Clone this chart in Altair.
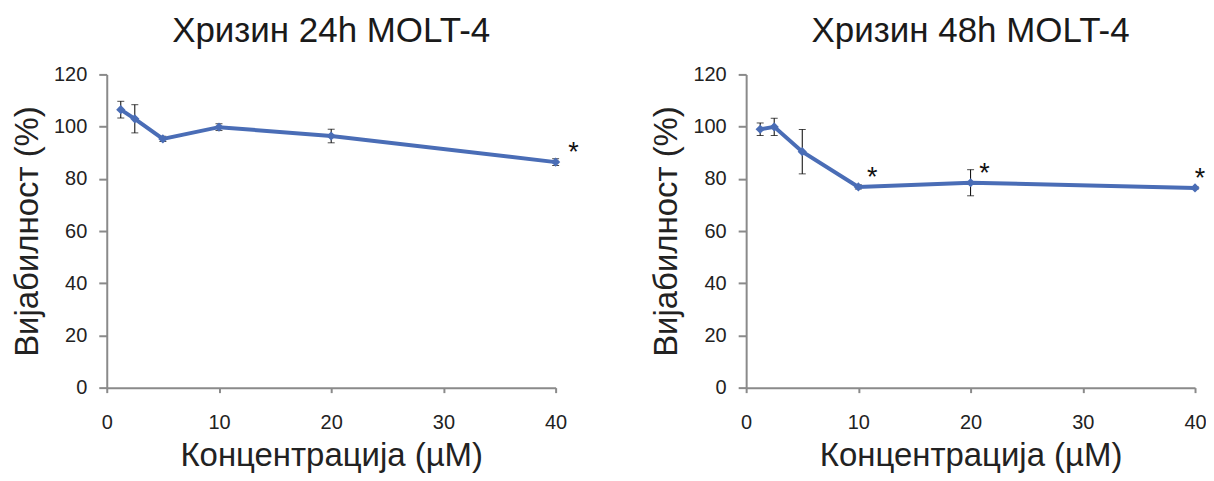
import altair as alt
import pandas as pd

# ---- data ----
conc = [1.25, 2.5, 5, 10, 20, 40]

v24 = [106.5, 103.0, 95.3, 99.8, 96.4, 86.4]
e24 = [3.2, 5.4, 1.0, 1.3, 2.6, 1.3]
sig24 = [False, False, False, False, False, True]

v48 = [99.0, 99.9, 90.4, 76.9, 78.5, 76.5]
e48 = [2.4, 3.3, 8.5, 0.8, 5.0, 0.5]
sig48 = [False, False, False, True, True, True]

titles = ["Хризин 24h MOLT-4", "Хризин 48h MOLT-4"]
x_title = "Концентрација (µM)"
y_title = "Вијабилност (%)"
x_ticks = [0, 10, 20, 30, 40]
y_ticks = [0, 20, 40, 60, 80, 100, 120]

FONT = "Liberation Sans"
BLUE = "#4a6db6"


def panel(title, vals, errs, sig, star_dx, edge_dx):
    df = pd.DataFrame({
        "c": conc,
        "v": vals,
        "lo": [v - e for v, e in zip(vals, errs)],
        "hi": [v + e for v, e in zip(vals, errs)],
        "sig": sig,
    })
    base = alt.Chart(df)
    xs = alt.Scale(domain=[0, 40], nice=False)
    ys = alt.Scale(domain=[0, 120], nice=False)
    xa = alt.Axis(values=x_ticks, title=x_title, labelFlush=False)
    ya = alt.Axis(values=y_ticks, title=y_title)
    X = alt.X("c:Q", scale=xs, axis=xa)
    Y = alt.Y("v:Q", scale=ys, axis=ya)

    err = base.mark_errorbar(ticks=True, color="black", thickness=1, size=7).encode(
        x=X,
        y=alt.Y("lo:Q", scale=ys, axis=ya),
        y2="hi:Q",
    )
    line = base.mark_line(color=BLUE, strokeWidth=4).encode(x=X, y=Y)
    pts = base.mark_point(shape="diamond", filled=True, size=85, color=BLUE,
                          opacity=1).encode(x=X, y=Y)
    star_style = dict(text="*", fontSize=27, font=FONT, dy=-1, baseline="alphabetic",
                      align="center", color="#111111")
    stars = base.transform_filter("datum.sig && datum.c < 40").mark_text(
        dx=star_dx, **star_style).encode(x=X, y=Y)
    stars_edge = base.transform_filter("datum.sig && datum.c >= 40").mark_text(
        dx=edge_dx, **star_style).encode(x=X, y=Y)
    return alt.layer(err, line, pts, stars, stars_edge).properties(
        width=450,
        height=314,
        title=alt.Title(title, fontSize=35, font=FONT, fontWeight="normal",
                        color="#1a1a1a", offset=15),
    )


left = panel(titles[0], v24, e24, sig24, 14, 18)
right = panel(titles[1], v48, e48, sig48, 14, 5)

chart = alt.hconcat(left, right, spacing=71).configure_view(stroke=None).configure_axis(
    grid=False,
    domainColor="#8a8a8a",
    domainWidth=2,
    tickColor="#8a8a8a",
    tickWidth=2,
    labelFont=FONT,
    labelFontSize=20,
    labelColor="#222222",
    titleFont=FONT,
    titleFontSize=33,
    titleFontWeight="normal",
    titleColor="#222222",
).configure_axisY(
    tickSize=8, labelPadding=12, titlePadding=9
).configure_axisX(
    tickSize=5, labelPadding=20, titlePadding=7
).properties(
    padding={"left": 3, "top": 6, "right": -1, "bottom": 0}
)

chart.save("out.html", embed_options={"renderer": "svg", "actions": False})
